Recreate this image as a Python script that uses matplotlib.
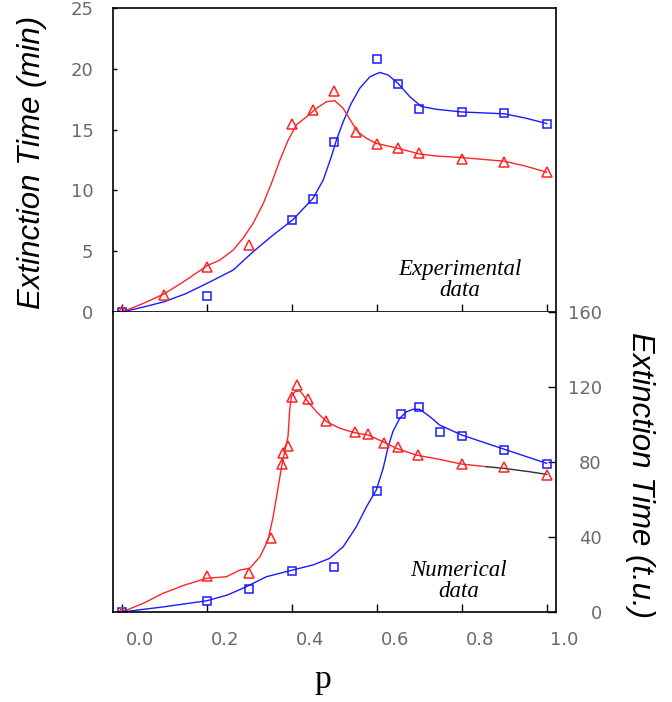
import matplotlib
matplotlib.use('Agg')
import matplotlib.pyplot as plt
import matplotlib.transforms as mtransforms

# Experimental data (min)
exp_p_tri = [0.0, 0.10, 0.20, 0.30, 0.40, 0.45, 0.50, 0.55, 0.60, 0.65, 0.70, 0.80, 0.90, 1.00]
exp_t_tri = [0.1, 1.4, 3.7, 5.5, 15.5, 16.6, 18.2, 14.8, 13.8, 13.5, 13.05, 12.6, 12.3, 11.5]
exp_p_sq = [0.0, 0.20, 0.40, 0.45, 0.50, 0.60, 0.65, 0.70, 0.80, 0.90, 1.00]
exp_t_sq = [0.0, 1.35, 7.6, 9.3, 14.0, 20.8, 18.75, 16.7, 16.45, 16.4, 15.5]

# fitted curves through the experimental points
exp_fit_p_tri = [0.0, 0.05, 0.10, 0.15, 0.20, 0.231, 0.262, 0.285, 0.309, 0.333, 0.352,
                 0.372, 0.391, 0.411, 0.435, 0.458, 0.482, 0.501, 0.521, 0.540, 0.556,
                 0.576, 0.599, 0.650, 0.701, 0.74, 0.80, 0.90, 0.95, 1.00]
exp_fit_t_tri = [0.0, 0.7, 1.5, 2.6, 3.8, 4.28, 5.1, 6.06, 7.3, 8.94, 10.58,
                 12.5, 14.1, 15.4, 16.06, 16.75, 17.3, 17.38, 16.75, 15.65, 14.8,
                 14.28, 13.87, 13.46, 12.99, 12.83, 12.7, 12.4, 12.0, 11.5]
exp_fit_p_sq = [0.0, 0.05, 0.10, 0.15, 0.20, 0.262, 0.309, 0.356, 0.402, 0.45, 0.474,
                0.493, 0.505, 0.521, 0.54, 0.56, 0.584, 0.607, 0.627, 0.65, 0.678,
                0.705, 0.74, 0.80, 0.90, 0.95, 1.00]
exp_fit_t_sq = [0.0, 0.4, 0.85, 1.5, 2.35, 3.45, 4.96, 6.33, 7.57, 9.35, 10.86,
                12.77, 14.14, 15.65, 17.16, 18.4, 19.35, 19.7, 19.49, 18.8, 17.7,
                16.9, 16.67, 16.45, 16.3, 15.95, 15.5]

# Numerical data (t.u.)
num_p_tri = [0.0, 0.20, 0.30, 0.35, 0.376, 0.38, 0.39, 0.40, 0.412, 0.438, 0.48,
             0.548, 0.58, 0.617, 0.65, 0.697, 0.80, 0.90, 1.00]
num_t_tri = [0.0, 19.2, 20.6, 39.3, 78.9, 84.6, 88.5, 114.5, 121.0, 113.6, 101.9,
             96.2, 94.9, 90.3, 88.2, 83.7, 78.9, 77.2, 73.1]
num_p_sq = [0.0, 0.20, 0.30, 0.40, 0.50, 0.60, 0.656, 0.70, 0.75, 0.80, 0.90, 1.00]
num_t_sq = [0.0, 6.0, 12.3, 22.0, 23.8, 64.5, 105.8, 109.2, 96.2, 94.0, 86.4, 78.9]

num_fit_p_tri = [0.0, 0.05, 0.097, 0.148, 0.20, 0.246, 0.278, 0.301, 0.325, 0.344, 0.356,
                 0.368, 0.376, 0.384, 0.391, 0.395, 0.399, 0.407, 0.419, 0.427, 0.438,
                 0.458, 0.482, 0.513, 0.548, 0.58, 0.615, 0.646, 0.693, 0.748, 0.80, 0.858]
num_fit_t_tri = [0.0, 4.6, 10.0, 14.4, 18.0, 18.8, 22.4, 23.3, 29.5, 38.4, 50.8,
                 66.8, 77.5, 86.4, 93.5, 107.7, 114.8, 117.5, 118.0, 115.7, 112.2,
                 106.8, 101.5, 98.0, 95.6, 94.4, 90.8, 87.3, 83.7, 81.4, 78.9, 77.5]
num_tail_p = [0.858, 0.90, 0.96, 1.00]
num_tail_t = [77.5, 76.6, 74.8, 73.4]
num_fit_p_sq = [0.0, 0.10, 0.20, 0.25, 0.293, 0.34, 0.395, 0.45, 0.489, 0.521, 0.552,
                0.576, 0.599, 0.615, 0.627, 0.638, 0.654, 0.67, 0.685, 0.701, 0.725,
                0.748, 0.80, 0.90, 1.00]
num_fit_t_sq = [0.0, 2.8, 6.0, 9.2, 13.5, 18.8, 22.0, 25.1, 28.6, 34.8, 45.5,
                56.2, 65.1, 76.6, 88.2, 96.2, 103.3, 106.8, 108.1, 108.1, 104.2,
                99.7, 94.4, 86.8, 79.3]

p_ticks = [0.0, 0.2, 0.4, 0.6, 0.8, 1.0]
p_ticklabels = ['0.0', '0.2', '0.4', '0.6', '0.8', '1.0']
exp_ticks = [0, 5, 10, 15, 20, 25]
num_ticks = [0, 40, 80, 120, 160]

RED = '#ff2424'
BLUE = '#1a1aff'
TICK_COL = '#6a6a6a'

fig = plt.figure(figsize=(6.72, 7.02), dpi=100)
W, H = 672.0, 702.0
x0, x1 = 113 / W, 556 / W
ax_top = fig.add_axes([x0, 1 - 312 / H, x1 - x0, 304 / H])
ax_bot = fig.add_axes([x0, 1 - 612 / H, x1 - x0, 300 / H])

xlim = (-0.021, 1.022)

# top panel: experiments
ax_top.plot(exp_fit_p_sq, exp_fit_t_sq, color=BLUE, lw=1.0)
ax_top.plot(exp_fit_p_tri, exp_fit_t_tri, color=RED, lw=1.0)
ax_top.plot(exp_p_sq, exp_t_sq, 's', ms=6, mfc='none', mec=BLUE, mew=1.1)
ax_top.plot(exp_p_tri, exp_t_tri, '^', ms=6.5, mfc='none', mec=RED, mew=1.1)
ax_top.set_xlim(*xlim)
ax_top.set_ylim(0, 25)
ax_top.set_xticks(p_ticks)
ax_top.set_xticklabels([])
ax_top.set_yticks(exp_ticks)
ax_top.tick_params(axis='x', direction='in', length=6, width=1, bottom=True, top=False)
ax_top.tick_params(axis='y', direction='in', length=3, width=1, pad=14,
                   labelsize=13, labelcolor=TICK_COL)
ax_top.text(0.795, 2.6, 'Experimental\ndata', ha='center', va='center',
            fontsize=16.5, style='italic', family='Liberation Serif', linespacing=1.0)

# bottom panel: simulations
ax_bot.plot(num_fit_p_sq, num_fit_t_sq, color=BLUE, lw=1.0)
ax_bot.plot(num_fit_p_tri, num_fit_t_tri, color=RED, lw=1.0)
ax_bot.plot(num_tail_p, num_tail_t, color='#303030', lw=1.0)
ax_bot.plot(num_p_sq, num_t_sq, 's', ms=6, mfc='none', mec=BLUE, mew=1.1)
ax_bot.plot(num_p_tri, num_t_tri, '^', ms=6.5, mfc='none', mec=RED, mew=1.1)
ax_bot.set_xlim(*xlim)
ax_bot.set_ylim(0, 160)
ax_bot.set_xticks(p_ticks)
ax_bot.set_xticklabels(p_ticklabels)
ax_bot.yaxis.tick_right()
ax_bot.set_yticks(num_ticks)
ax_bot.tick_params(axis='x', direction='in', length=6, width=1, pad=14,
                   labelsize=13, labelcolor=TICK_COL)
ax_bot.tick_params(axis='y', direction='in', length=6, width=1, pad=33,
                   labelsize=13, labelcolor=TICK_COL)
for lbl in ax_bot.get_yticklabels():
    lbl.set_horizontalalignment('right')
shift = mtransforms.ScaledTranslation(18 / 100, 0, fig.dpi_scale_trans)
for lbl in ax_bot.get_xticklabels():
    lbl.set_transform(lbl.get_transform() + shift)
ax_bot.spines['top'].set_visible(False)
ax_bot.text(0.793, 16.3, 'Numerical\ndata', ha='center', va='center',
            fontsize=16.5, style='italic', family='Liberation Serif', linespacing=1.0)

for ax in (ax_top, ax_bot):
    for s in ax.spines.values():
        s.set_linewidth(1.2)

fig.text(32 / W, 1 - 162 / H, 'Extinction Time (min)', rotation=90, ha='center', va='center',
         fontsize=22.5, style='italic', family='Liberation Sans')
fig.text(640 / W, 1 - 475 / H, 'Extinction Time (t.u.)', rotation=-90, ha='center', va='center',
         fontsize=22.5, style='italic', family='Liberation Sans')
fig.text(323 / W, 1 - 680 / H, 'p', ha='center', va='center',
         fontsize=24, family='Liberation Serif')

fig.savefig('out.png', dpi=100)
